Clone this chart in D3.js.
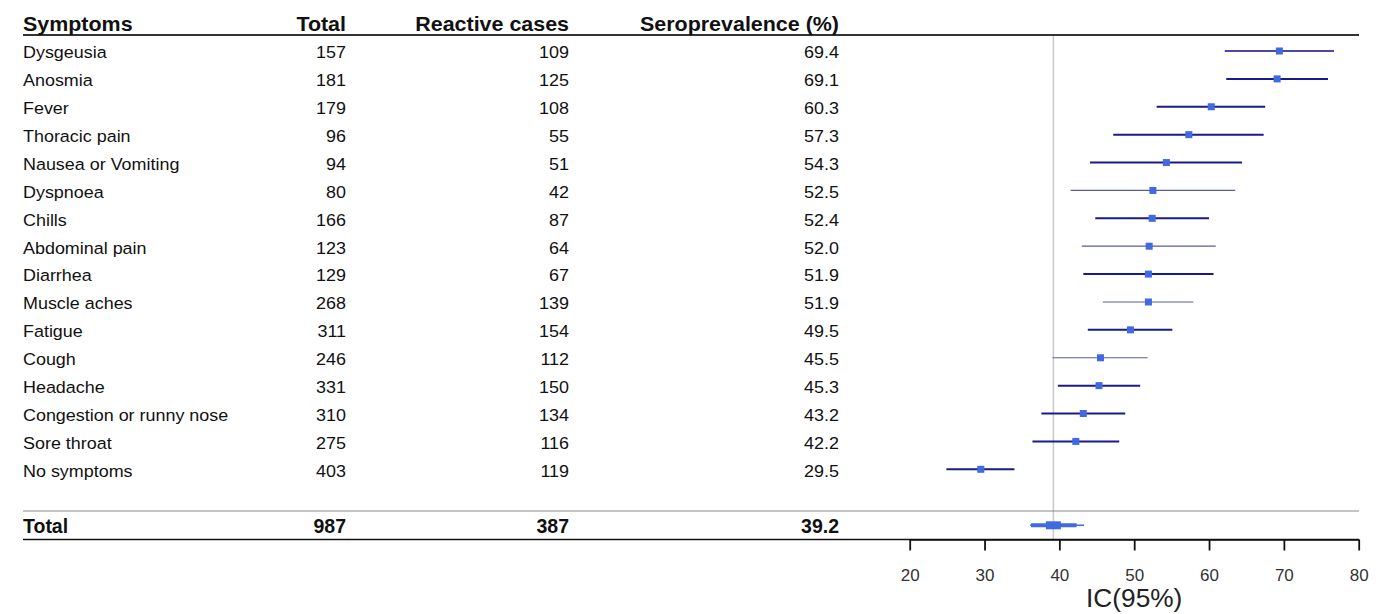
<!DOCTYPE html>
<html>
<head>
<meta charset="utf-8">
<script src="https://cdn.jsdelivr.net/npm/d3@7"></script>
<style>
  html, body { margin: 0; padding: 0; background: #fff; }
  svg { display: block; font-family: "Liberation Sans", Arial, sans-serif; }
</style>
</head>
<body>
<svg id="chart" width="1386" height="614"></svg>
<script>
// ---- Data ----
const symptoms = ["Dysgeusia","Anosmia","Fever","Thoracic pain","Nausea or Vomiting","Dyspnoea","Chills","Abdominal pain","Diarrhea","Muscle aches","Fatigue","Cough","Headache","Congestion or runny nose","Sore throat","No symptoms"];
const totals = [157,181,179,96,94,80,166,123,129,268,311,246,331,310,275,403];
const reactive = [109,125,108,55,51,42,87,64,67,139,154,112,150,134,116,119];
const seroprev = [69.4,69.1,60.3,57.3,54.3,52.5,52.4,52.0,51.9,51.9,49.5,45.5,45.3,43.2,42.2,29.5];
const ciLow  = [62.1,62.3,53.0,47.2,44.1,41.5,44.8,43.0,43.2,45.8,43.8,39.1,39.8,37.6,36.4,24.9];
const ciHigh = [76.7,75.9,67.5,67.3,64.4,63.5,60.0,60.9,60.6,57.9,55.1,51.8,50.8,48.8,48.0,34.0];
const totalRow = {label: "Total", total: 987, reactive: 387, sero: 39.2, low: 36.2, high: 42.3, outerLow: 36.1, outerHigh: 43.3};
const headers = ["Symptoms","Total","Reactive cases","Seroprevalence (%)"];
const xTicks = [20,30,40,50,60,70,80];
const axisTitle = "IC(95%)";

// ---- Layout ----
const svg = d3.select("#chart");
const left = 23, right = 1359;
const colTotal = 346, colReactive = 569, colSero = 839;
const sx = 1.1; // horizontal stretch of text

const x = d3.scaleLinear().domain([20, 80]).range([909.7, 1358.7]);
const y = d3.scalePoint().domain(symptoms).range([51, 469.3]);
const yTotal = 525.3;
const yHeaderLine = 35, ySep = 511, yAxis = 539.5;

function txt(g, t, px, py, opts) {
  const el = g.append("text")
    .attr("transform", `translate(${px},${py}) scale(${opts.scale || sx},1)`)
    .attr("text-anchor", opts.anchor || "start")
    .attr("font-size", opts.size)
    .attr("font-weight", opts.bold ? "bold" : "normal")
    .attr("fill", opts.fill || "#111")
    .text(t);
  return el;
}

// reference vertical line at total seroprevalence
svg.append("line")
  .attr("x1", x(totalRow.sero)).attr("x2", x(totalRow.sero))
  .attr("y1", yHeaderLine).attr("y2", yAxis)
  .attr("stroke", "#c8c8c8").attr("stroke-width", 1.5);

// horizontal rules
svg.append("line").attr("x1", left).attr("x2", right).attr("y1", yHeaderLine).attr("y2", yHeaderLine)
  .attr("stroke", "#333").attr("stroke-width", 1.8);
svg.append("line").attr("x1", left).attr("x2", right).attr("y1", ySep).attr("y2", ySep)
  .attr("stroke", "#8a8a8a").attr("stroke-width", 1.2);

// headers
const hg = svg.append("g");
const hY = 30.7, hSize = 19.5;
txt(hg, headers[0], left, hY, {size: hSize, bold: true});
txt(hg, headers[1], colTotal, hY, {size: hSize, bold: true, anchor: "end"});
txt(hg, headers[2], colReactive, hY, {size: hSize, bold: true, anchor: "end"});
txt(hg, headers[3], colSero, hY, {size: hSize, bold: true, anchor: "end"});

// table rows
const rows = svg.append("g");
const dSize = 16.3;
symptoms.forEach((s, i) => {
  const by = y(s) + 7.3;
  txt(rows, s, left, by, {size: dSize});
  txt(rows, totals[i], colTotal, by, {size: dSize, anchor: "end"});
  txt(rows, reactive[i], colReactive, by, {size: dSize, anchor: "end"});
  txt(rows, seroprev[i].toFixed(1), colSero, by, {size: dSize, anchor: "end"});
});

// total row text
const tBy = yTotal + 7.8;
txt(rows, totalRow.label, left, tBy, {size: 19.5, bold: true, scale: 1.0});
txt(rows, totalRow.total, colTotal, tBy, {size: 19.5, bold: true, anchor: "end", scale: 1.0});
txt(rows, totalRow.reactive, colReactive, tBy, {size: 19.5, bold: true, anchor: "end", scale: 1.0});
txt(rows, totalRow.sero.toFixed(1), colSero, tBy, {size: 19.5, bold: true, anchor: "end", scale: 1.0});

// forest plot
const thin = new Set(["Dyspnoea","Abdominal pain","Muscle aches","Cough"]);
const medium = new Set(["Dysgeusia"]);
const fg = svg.append("g");
symptoms.forEach((s, i) => {
  const cy = y(s);
  fg.append("line")
    .attr("x1", x(ciLow[i])).attr("x2", x(ciHigh[i]))
    .attr("y1", cy).attr("y2", cy)
    .attr("stroke", thin.has(s) ? "#5a5aa6" : (medium.has(s) ? "#4a4aa6" : "#1a1a8c"))
    .attr("stroke-width", thin.has(s) ? 1.2 : 2);
  const sz = 7;
  fg.append("rect")
    .attr("x", x(seroprev[i]) - sz / 2).attr("y", cy - sz / 2)
    .attr("width", sz).attr("height", sz)
    .attr("fill", "#4169e1");
});

// total summary
fg.append("line").attr("x1", x(totalRow.outerLow)).attr("x2", x(totalRow.outerHigh))
  .attr("y1", yTotal).attr("y2", yTotal).attr("stroke", "#4169e1").attr("stroke-width", 1.5);
fg.append("line").attr("x1", x(totalRow.low)).attr("x2", x(totalRow.high))
  .attr("y1", yTotal).attr("y2", yTotal).attr("stroke", "#4169e1").attr("stroke-width", 4);
fg.append("rect")
  .attr("x", x(totalRow.sero - 1.0)).attr("y", yTotal - 4)
  .attr("width", x(totalRow.sero + 1.0) - x(totalRow.sero - 1.0)).attr("height", 8)
  .attr("fill", "#4169e1");

// bottom rule / axis
svg.append("line").attr("x1", left).attr("x2", right).attr("y1", yAxis).attr("y2", yAxis)
  .attr("stroke", "#111").attr("stroke-width", 1.6);

const axis = d3.axisBottom(x).tickValues(xTicks).tickSize(11).tickSizeOuter(0).tickPadding(12);
const ag = svg.append("g").attr("transform", `translate(0,${yAxis})`).call(axis);
ag.select(".domain").attr("stroke", "#111").attr("stroke-width", 1.6);
ag.selectAll(".tick line").attr("stroke", "#111").attr("stroke-width", 1.8);
ag.selectAll(".tick text")
  .attr("font-size", 17).attr("font-family", "Liberation Sans, Arial, sans-serif")
  .attr("fill", "#333").attr("dy", null).attr("y", 41);

svg.append("text")
  .attr("transform", `translate(${(x(20) + x(80)) / 2},606.5) scale(1.05,1)`)
  .attr("text-anchor", "middle").attr("font-size", 25).attr("fill", "#222")
  .text(axisTitle);
</script>
</body>
</html>
